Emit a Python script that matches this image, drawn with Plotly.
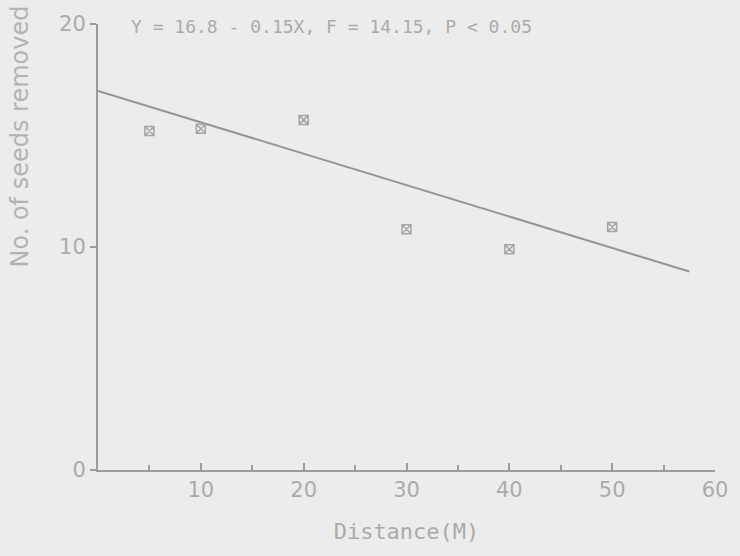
import plotly.graph_objects as go

distance = [5, 10, 20, 30, 40, 50]
seeds_removed = [15.2, 15.3, 15.7, 10.8, 9.9, 10.9]
fit_x = [0, 57.5]
fit_y = [17.0, 8.9]
x_ticks = [10, 20, 30, 40, 50, 60]
y_ticks = [0, 10, 20]
equation = "Y = 16.8 - 0.15X, F = 14.15, P < 0.05"

fig = go.Figure()
fig.add_trace(go.Scatter(x=fit_x, y=fit_y, mode="lines",
                         line=dict(color="#959595", width=2), showlegend=False))
fig.add_trace(go.Scatter(x=distance, y=seeds_removed, mode="markers",
                         marker=dict(symbol="square-x-open", size=9, color="#a5a5a5",
                                     line=dict(width=1.5, color="#a5a5a5")),
                         showlegend=False))

fig.update_layout(
    width=740, height=556,
    margin=dict(l=98, r=24, t=20, b=86),
    paper_bgcolor="#ececec", plot_bgcolor="#ececec",
    font=dict(family="DejaVu Sans", color="#ababab", size=20),
    xaxis=dict(range=[0, 60], tickvals=x_ticks, showgrid=False, zeroline=False,
               showline=True, linecolor="#9c9c9c", linewidth=2,
               ticks="inside", ticklen=7, tickcolor="#9c9c9c", tickwidth=1.5,
               minor=dict(dtick=5, ticks="inside", ticklen=5, tickcolor="#9c9c9c"),
               tickfont=dict(size=21, color="#ababab"),
               title=dict(text="Distance(M)", font=dict(family="DejaVu Sans Mono", size=22, color="#ababab"), standoff=22)),
    yaxis=dict(range=[0, 20], tickvals=y_ticks, showgrid=False, zeroline=False,
               showline=True, linecolor="#9c9c9c", linewidth=2,
               ticks="outside", ticklen=6, tickcolor="#9c9c9c", tickwidth=1.5,
               tickfont=dict(size=21, color="#ababab")),
)
fig.add_annotation(text="No. of seeds removed", textangle=-90, xref="paper", yref="paper",
                   x=-0.127, y=1.045, xanchor="center", yanchor="top", showarrow=False,
                   font=dict(size=24, color="#b3b3b3"))
fig.add_annotation(text=equation, xref="paper", yref="paper", x=0.05, y=0.995,
                   xanchor="left", yanchor="middle", showarrow=False,
                   font=dict(family="DejaVu Sans Mono", size=18, color="#ababab"))

fig.write_html("out.html", config={"displayModeBar": False},
               post_script="document.body.style.margin='0';document.body.style.background='#ececec';")
